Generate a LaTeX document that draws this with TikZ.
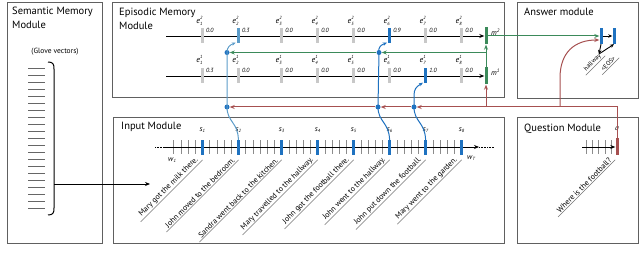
\documentclass[tikz,border=0pt]{standalone}
\usepackage{fontspec}
\setmainfont{PT Sans}
\usetikzlibrary{arrows.meta,calc}
\definecolor{blueS}{HTML}{1F72C0}
\definecolor{blueL}{HTML}{5C9CC9}
\definecolor{barG}{HTML}{C8C8C8}
\definecolor{grnM}{HTML}{3B8A5A}
\definecolor{redQ}{HTML}{A65050}
\definecolor{boxC}{HTML}{606060}
\newcommand{\eLbl}[2]{\textit{e}\makebox[0pt][l]{\raisebox{0.85ex}{\fontsize{4.5}{5}\selectfont\itshape #1}}\raisebox{-0.45ex}{\fontsize{4.5}{5}\selectfont\itshape #2}}
\newcommand{\subLbl}[2]{\textit{#1}\raisebox{-0.45ex}{\fontsize{4.5}{5}\selectfont\itshape #2}}
\newcommand{\supLbl}[2]{\textit{#1}\raisebox{0.9ex}{\fontsize{5}{5}\selectfont\itshape #2}}
\begin{document}
\begin{tikzpicture}[x=1pt,y=-1pt,
  module/.style={draw=boxC, line width=0.9pt},
  title/.style={anchor=north west, inner sep=0pt, align=left, font=\fontsize{10.5}{14}\selectfont},
  barbox/.style={rectangle, inner sep=0pt, minimum width=3pt, minimum height=15pt},
  tick/.style={draw=black!45, line width=0.6pt},
  vecline/.style={draw=black!60, line width=0.9pt},
  tl/.style={draw=black, line width=0.9pt},
  arrowed/.style={-{Stealth[length=5pt,width=4pt]}},
  sarrowed/.style={-{Stealth[length=4pt,width=3.5pt]}},
  elbl/.style={inner sep=0pt, font=\fontsize{8}{8}\selectfont},
  val/.style={anchor=west, inner sep=0pt, font=\fontsize{6}{6}\selectfont\itshape},
  slbl/.style={inner sep=0pt, font=\fontsize{7.5}{8}\selectfont},
  sent/.style={rotate=45, anchor=south east, inner xsep=0pt, inner ysep=1pt, font=\fontsize{7.8}{8}\selectfont},
  uline/.style={draw=black!55, line width=0.5pt},
  redline/.style={draw=redQ, line width=1pt},
  grnline/.style={draw=grnM, line width=1pt},
  jdot/.style={circle, fill=blueS, inner sep=0pt, minimum size=5pt}
]
\useasboundingbox (0,0) rectangle (640,264);
% module boxes
\draw[module] (7,2) rectangle (102,243);
\draw[module] (112,2) rectangle (504,97);
\draw[module] (113,117) rectangle (504,243);
\draw[module] (517,2) rectangle (638,98);
\draw[module] (517,117) rectangle (638,243);
% titles
\node[title] (semT) at (12,7) {Semantic Memory\\Module};
\node[title] (epiT) at (119,8) {Episodic Memory\\Module};
\node[title] (ansT) at (524,8) {Answer module};
\node[title] (inT) at (121,122) {Input Module};
\node[title] (qT) at (524,124) {Question Module};
% semantic memory
\node[inner sep=0pt, font=\fontsize{7.5}{8}\selectfont] (glove) at (55,52) {(Glove vectors)};
\foreach \k in {0,...,20} { \draw[vecline] (28,{68+7*\k}) -- (45,{68+7*\k}); }
\draw[line width=1pt] (48,62) .. controls (53,62) and (54,64) .. (54,69) -- (54,208) .. controls (54,213) and (53,215) .. (48,215);
\coordinate (semOut) at (54,184);
\coordinate (inIn) at (150,184);
\draw[tl, arrowed] (semOut) -- (inIn);
% input module timeline
\coordinate (inStart) at (163,147);
\coordinate (inEnd) at (479,147);
\coordinate (inPre) at (155,147);
\coordinate (inPost) at (494,147);
\draw[densely dotted, line width=0.6pt] (inPre) -- (inStart);
\foreach \k in {1,...,40} { \draw[tick] ({166.4+7.2*\k},140.5) -- ++(0,14); }
\draw[tl, arrowed] (inStart) -- (inEnd);
\draw[densely dotted, line width=0.6pt] (inEnd) -- (inPost);
\foreach \x [count=\i] in {202.4,238.4,281.6,317.6,353.6,389.6,425.6,461.6} {
  \node[barbox, fill=blueS] (s\i) at (\x,147.5) {};
  \node[slbl] (sl\i) at (\x,130) {\subLbl{s}{\i}};
}
\node[slbl] (w1) at (172,160) {\subLbl{w}{1}};
\node[slbl] (wT) at (471,158) {\subLbl{w}{T}};
\foreach \x/\t [count=\i] in {202.4/Mary got the milk there., 238.4/John moved to the bedroom., 281.6/Sandra went back to the kitchen., 317.6/Mary travelled to the hallway., 353.6/John got the football there., 389.6/John went to the hallway., 425.6/John put down the football., 461.6/Mary went to the garden.} {
  \node[sent] (sen\i) at ({\x-2},162) {\t};
  \draw[uline] ($(sen\i.south west)!-4pt!(sen\i.south east)$) -- ($(sen\i.south east)!-3pt!(sen\i.south west)$);
}
% episodic memory
\node[barbox, fill=grnM, minimum height=17pt] (m2) at (486,36) {};
\node[barbox, fill=grnM, minimum height=17pt] (m1) at (486,76) {};
\node[slbl, anchor=west] (m2l) at (491,32) {\supLbl{m}{2}};
\node[slbl, anchor=west] (m1l) at (491,72) {\supLbl{m}{1}};
\coordinate (topStart) at (166,36);
\coordinate (botStart) at (166,76);
\draw[tl, arrowed] (topStart) -- (m2.west);
\draw[tl, arrowed] (botStart) -- (m1.west);
\foreach \x/\tv/\bv/\tc/\bc [count=\i] in {202.4/0.0/0.3/barG/barG, 238.4/0.3/0.0/blueL/barG, 281.6/0.0/0.0/barG/barG, 317.6/0.0/0.0/barG/barG, 353.6/0.0/0.0/barG/barG, 389.6/0.9/0.0/blueS/barG, 425.6/0.0/1.0/barG/blueS, 461.6/0.0/0.0/barG/barG} {
  \node[barbox, fill=\tc] (t\i) at (\x,36) {};
  \node[barbox, fill=\bc] (b\i) at (\x,76) {};
  \node[elbl] (et\i) at ({\x-3},21) {\eLbl{2}{\i}};
  \node[elbl] (eb\i) at ({\x-3},60) {\eLbl{1}{\i}};
  \node[val] (vt\i) at ({\x+3.5},30) {\tv};
  \node[val] (vb\i) at ({\x+3.5},70) {\bv};
}
% attention gate junctions
\node[jdot] (dG2) at (227,52.5) {};
\node[jdot] (dG6) at (379,52.5) {};
\node[jdot] (dR2) at (227,107) {};
\node[jdot] (dR6) at (378,107) {};
\node[jdot] (dR7) at (414,107) {};
\coordinate (t2in) at ($(t2.south west)+(-1,-1)$);
\coordinate (t6in) at ($(t6.south west)+(-1,-1)$);
\coordinate (b7in) at ($(b7.south west)+(-1,-1)$);
% blue gate curves
\draw[blueL, line width=1pt, sarrowed] (s2.north) .. controls (238,122) and (227,122) .. (dR2.center) -- (dG2.center) .. controls (227,47) and (230,45) .. (t2in);
\draw[blueS, line width=1pt, sarrowed] (s6.north) .. controls (389,122) and (378,122) .. (dR6.center) -- (dG6.center) .. controls (378,47) and (381,45) .. (t6in);
\draw[blueS, line width=1pt, sarrowed] (s7.north) .. controls (425,122) and (414,122) .. (dR7.center) -- (414,96) .. controls (414,89) and (416,87) .. (b7in);
% question module
\node[barbox, fill=redQ, minimum height=17pt] (q) at (617,147) {};
\node[slbl] (ql) at (617,129) {\textit{q}};
\foreach \x in {586,592,598,605,611} { \draw[tick] (\x,140.5) -- ++(0,14); }
\coordinate (qStart) at (582,147);
\draw[tl, arrowed] (qStart) -- (q.west);
\node[sent] (qsen) at (613,162) {Where is the football?};
\draw[uline] ($(qsen.south west)!-4pt!(qsen.south east)$) -- ($(qsen.south east)!-3pt!(qsen.south west)$);
% red question lines
\coordinate (rjM) at (486,107);
\coordinate (rjA) at (560,107);
\coordinate (rjA2) at (560,78);
\draw[redline, arrowed] (q.north) |- (dR7.east);
\draw[redline, arrowed] (dR7.west) -- (dR6.east);
\draw[redline, arrowed] (dR6.west) -- (dR2.east);
\draw[redline, arrowed] (rjM) -- (m1.south);
% answer module
\node[barbox, fill=blueS, minimum height=16pt] (a1) at (601,36) {};
\node[barbox, fill=blueS, minimum height=16pt] (a2) at (614,36) {};
\coordinate (a1in) at ($(a1.west)+(0,4)$);
\draw[redline, arrowed] (rjA) -- (rjA2) .. controls (560,52) and (575,40) .. (a1in);
% green memory lines
\coordinate (gj) at (486,52.5);
\draw[grnline, arrowed] (m1.north) -- (m2.south);
\draw[grnline, arrowed] (gj) -- (dG6.east);
\draw[grnline, arrowed] (dG6.west) -- (dG2.east);
\draw[grnline, arrowed] (m2.east) -- (m2.east -| a1.west);
% answer outputs
\coordinate (hw) at (599,54);
\draw[line width=0.9pt, sarrowed] (a1.east) -- (a2.west);
\draw[line width=0.9pt, sarrowed] (a1.south) -- (hw);
\draw[line width=0.9pt, sarrowed] (hw) -- (a2.south);
\node[sent, font=\fontsize{6.3}{7}\selectfont] (hwT) at (603,58) {hallway};
\draw[uline] ($(hwT.south west)!-3pt!(hwT.south east)$) -- ($(hwT.south east)!-3pt!(hwT.south west)$);
\node[sent, font=\fontsize{6.3}{7}\selectfont] (eosT) at (617,60) {\textless EOS\textgreater};
\draw[uline] ($(eosT.south west)!-3pt!(eosT.south east)$) -- ($(eosT.south east)!-3pt!(eosT.south west)$);
\end{tikzpicture}
\end{document}
